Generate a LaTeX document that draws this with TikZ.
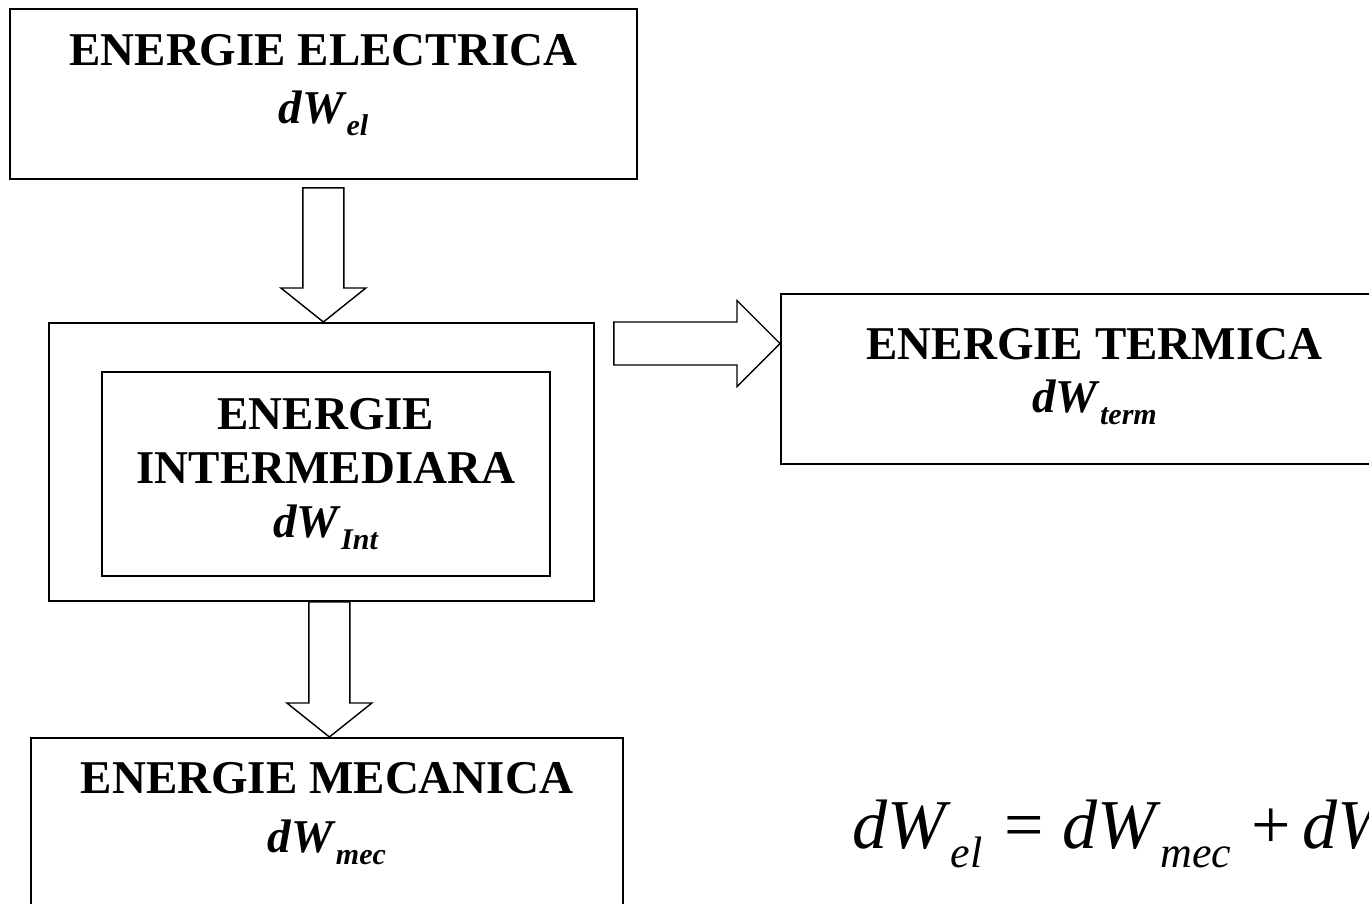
\documentclass[tikz,border=0pt]{standalone}
\usepackage{fontspec}
\setmainfont{Liberation Serif}
\usetikzlibrary{calc}
\newcommand{\dWb}[1]{\textit{dW}\raisebox{-12pt}{\fontsize{30}{30}\selectfont\textit{#1}}}
\newcommand{\dWe}[1]{\textit{dW}\raisebox{-19pt}{\fontsize{44}{44}\selectfont\textit{#1}}}
% sageti groase (bloc): de sus in jos si spre dreapta
\newcommand{\sagjos}[2]{\draw[sageata] ($(#1)+(-20.5,0)$) -- ($(#1|-#2)+(-20.5,-34)$) -- ($(#1|-#2)+(-42.5,-34)$) -- (#1|-#2)
  -- ($(#1|-#2)+(42.5,-34)$) -- ($(#1|-#2)+(20.5,-34)$) -- ($(#1)+(20.5,0)$) -- cycle;}
\newcommand{\sagdr}[2]{\draw[sageata] ($(#1)+(0,-21.5)$) -- ($(#2|-#1)+(-43,-21.5)$) -- ($(#2|-#1)+(-43,-43)$) -- (#2|-#1)
  -- ($(#2|-#1)+(-43,43)$) -- ($(#2|-#1)+(-43,21.5)$) -- ($(#1)+(0,21.5)$) -- cycle;}
\tikzset{
  cutie/.style={draw,line width=1.8pt,inner sep=0pt,align=center,anchor=north west,
                font=\bfseries\fontsize{47}{58}\selectfont},
  sageata/.style={draw,line width=1.4pt,fill=white,line join=miter},
}

\begin{document}
\begin{tikzpicture}[x=1pt,y=-1pt]
  \useasboundingbox (0,0) rectangle (1369,903);
  \clip (0,0) rectangle (1369,903);
  % blocuri
  \node[cutie,minimum width=627pt,text height=115pt,text depth=55pt] (el) at (9,8) {ENERGIE ELECTRICA\\ \dWb{el}};
  \node[draw,line width=1.8pt,inner sep=0pt,anchor=north west,minimum width=545pt,minimum height=278pt] (intext) at (48,322) {};
  \node[cutie,font=\bfseries\fontsize{47}{54}\selectfont,minimum width=448pt,text height=166pt,text depth=38pt] (int) at (101,371)
    {ENERGIE\\ INTERMEDIARA\\ \dWb{Int}};
  \node[cutie,font=\bfseries\fontsize{47}{53}\selectfont,minimum width=627pt,text height=119pt,text depth=51pt] (term) at (780,293)
    {ENERGIE TERMICA\\ \dWb{term}};
  \node[cutie,font=\bfseries\fontsize{47}{59}\selectfont,minimum width=592pt,text height=115pt,text depth=55pt] (mec) at (30,737)
    {ENERGIE MECANICA\\ \dWb{mec}};
  % sageti
  \coordinate (a1) at ($(el.south)+(0,8)$);
  \coordinate (a2) at ($(intext.south)+(8,0)$);
  \coordinate (a3) at ($(intext.north east)+(19,21.5)$);
  \sagjos{a1}{intext.north}
  \sagjos{a2}{mec.north}
  \sagdr{a3}{term.west}
  % bilant
  \node[anchor=base west,inner sep=0pt,font=\fontsize{70}{70}\selectfont] (bilant) at (852,848)
    {\dWe{el}\hspace{22pt}=\hspace{18pt}\dWe{mec}\hspace{20pt}+\hspace{12pt}\dWe{term}};
\end{tikzpicture}
\end{document}
